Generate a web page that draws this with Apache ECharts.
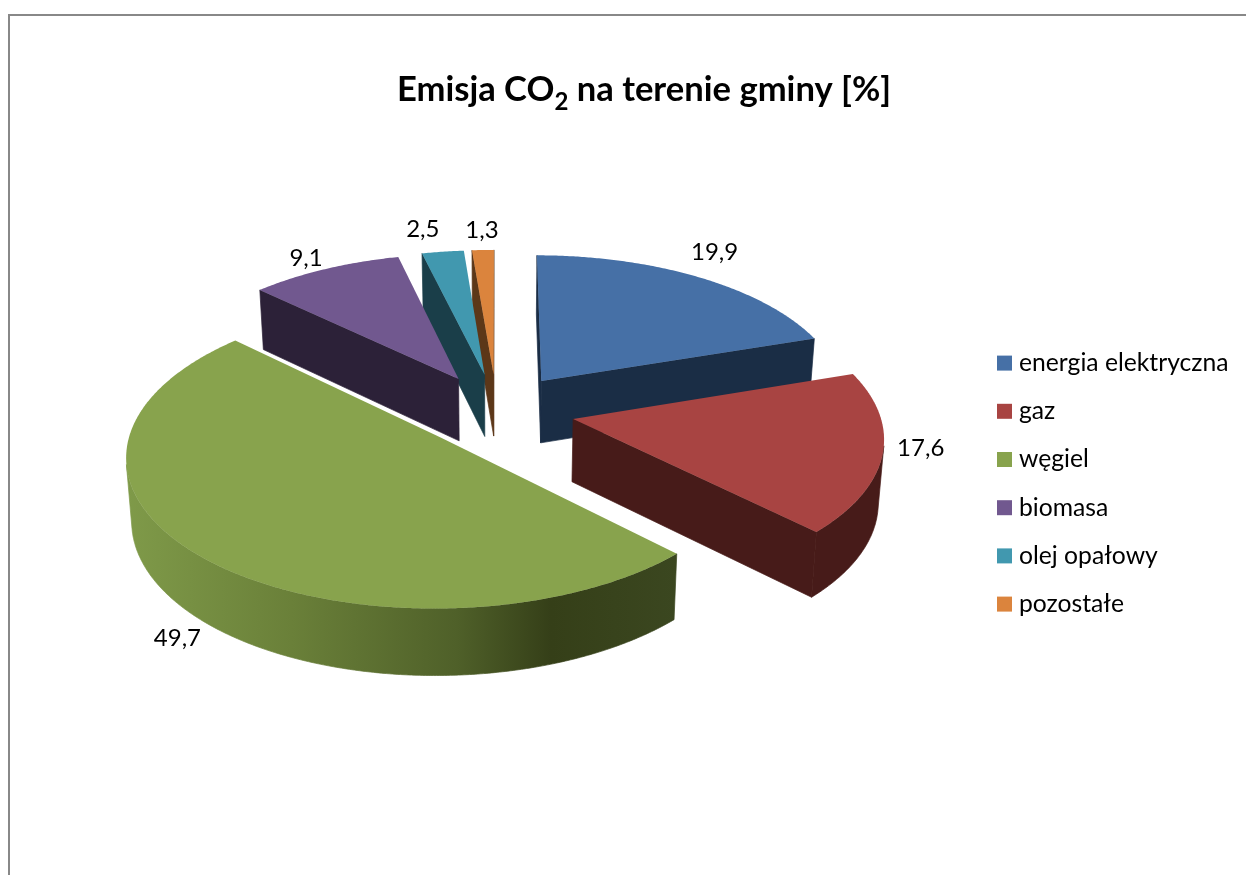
<!DOCTYPE html>
<html>
<head>
<meta charset="utf-8">
<style>html,body{margin:0;padding:0;background:#fff}#c{width:1246px;height:875px}</style>
<script src="https://cdn.jsdelivr.net/npm/echarts@6/dist/echarts.min.js"></script>
</head>
<body>
<div id="c"></div>
<script>
var categories = ['energia elektryczna', 'gaz', 'węgiel', 'biomasa', 'olej opałowy', 'pozostałe'];
var values = [19.9, 17.6, 49.7, 9.1, 2.5, 1.3];
var topColors = ['#4670A6', '#A84442', '#88A34D', '#71588F', '#4198AF', '#DB843D'];
var wallColors = ['#1A2D45', '#471B19', null, '#2C2138', '#1A3E49', '#5C3718'];
var labelNudges = [[16, -25], [38, -5], [-22, 82], [-19, -11], [-20, -22], [-1, -20]];

// Projection of the tilted, exploded pie
var view = { cx: 496.7, cy: 410.5, R: 306, explode: 78, tilt: 0.476, persp: 0.11, depth: 62.5, taper: 0.985 };

var total = values.reduce(function (a, b) { return a + b; }, 0);
var starts = [];
values.reduce(function (acc, v, i) { starts[i] = acc; return acc + v; }, 0);

function project(x, z, low) {
  var s = 1 / (1 - view.persp * z / view.R);
  return [
    view.cx + x * s * (low ? view.taper : 1),
    view.cy + z * view.tilt * s + (low ? view.depth * Math.sqrt(s) : 0)
  ];
}
function midAngle(i) { return (starts[i] + values[i] / 2) / total * 2 * Math.PI; }
function area(q) {
  var a = 0;
  for (var i = 0; i < q.length; i++) {
    var p = q[i], n = q[(i + 1) % q.length];
    a += p[0] * n[1] - n[0] * p[1];
  }
  return a;
}
var greenWall = {
  type: 'linear', global: true, x: 126, y: 0, x2: 678, y2: 0,
  colorStops: [
    { offset: 0, color: '#7F9A49' }, { offset: 0.3, color: '#6A8039' },
    { offset: 0.6, color: '#4F6029' }, { offset: 0.77, color: '#353F18' },
    { offset: 1, color: '#3B4720' }
  ]
};

function drawSlice(i) {
  var a0 = starts[i] / total * 2 * Math.PI;
  var a1 = (starts[i] + values[i]) / total * 2 * Math.PI;
  var m = midAngle(i);
  var ox = view.explode * Math.sin(m), oz = -view.explode * Math.cos(m);
  var ring = [];
  var n = Math.max(4, Math.ceil((a1 - a0) / 0.008));
  for (var k = 0; k <= n; k++) {
    var a = a0 + (a1 - a0) * k / n;
    ring.push([ox + view.R * Math.sin(a), oz - view.R * Math.cos(a)]);
  }
  var wallFill = wallColors[i] || greenWall;
  var kids = [];
  function wall(pts, fill) {
    kids.push({ type: 'polygon', shape: { points: pts }, style: { fill: fill, stroke: fill, lineWidth: 0.7 } });
  }
  function edge(a, b) {
    var q = [project(a[0], a[1]), project(b[0], b[1]), project(b[0], b[1], true), project(a[0], a[1], true)];
    if (area(q) < 0) wall(q, wallFill);
  }
  var apex = [ox, oz];
  edge(apex, ring[0]);
  edge(ring[n], apex);
  var upper = [], lower = [];
  for (var j = 0; j < n; j++) {
    var q = [project(ring[j][0], ring[j][1]), project(ring[j + 1][0], ring[j + 1][1]),
             project(ring[j + 1][0], ring[j + 1][1], true), project(ring[j][0], ring[j][1], true)];
    if (area(q) < 0) {
      if (!upper.length) { upper.push(q[0]); lower.push(q[3]); }
      upper.push(q[1]); lower.push(q[2]);
    }
  }
  if (upper.length) wall(upper.concat(lower.reverse()), wallFill);
  var top = [project(ox, oz)].concat(ring.map(function (p) { return project(p[0], p[1]); }));
  kids.push({ type: 'polygon', shape: { points: top }, style: { fill: topColors[i] } });
  var lp = project(ox + view.R * Math.sin(m), oz - view.R * Math.cos(m));
  kids.push({
    type: 'text', z2: 10,
    style: {
      x: lp[0] + labelNudges[i][0], y: lp[1] + labelNudges[i][1],
      text: String(values[i]).replace('.', ','),
      fill: '#000', font: '24px Lato', align: 'center', verticalAlign: 'middle'
    }
  });
  return { type: 'group', children: kids };
}

// Paint back slices first
var paintRank = values.map(function (v, i) { return i; })
  .sort(function (a, b) { return Math.cos(midAngle(b)) - Math.cos(midAngle(a)); });

var series = categories.map(function (name, i) {
  return {
    type: 'custom', name: name, coordinateSystem: 'none',
    z: 2 + paintRank.indexOf(i),
    itemStyle: { color: topColors[i] },
    data: [[values[i]]],
    renderItem: function () { return drawSlice(i); }
  };
});

var chart = echarts.init(document.getElementById('c'), null, { renderer: 'canvas' });
chart.setOption({
  animation: false,
  backgroundColor: '#fff',
  title: {
    text: 'Emisja CO{s|2} na terenie gminy [%]',
    left: 639, top: 60, textAlign: 'center',
    textStyle: {
      fontFamily: 'Lato', fontWeight: 'bold', fontSize: 34.6, color: '#000',
      rich: { s: { fontFamily: 'Lato', fontWeight: 'bold', fontSize: 24, color: '#000', padding: [25, 0, 0, 0] } }
    }
  },
  legend: {
    orient: 'vertical', left: 997, top: 349, icon: 'rect',
    itemWidth: 15, itemHeight: 15, itemGap: 20, padding: 0,
    data: categories, selectedMode: false,
    textStyle: { fontFamily: 'Lato', fontSize: 24.7, color: '#000', padding: [0, 0, 0, 2], lineHeight: 28.2 }
  },
  graphic: [{
    type: 'polyline', silent: true,
    shape: { points: [[9, 875], [9, 15], [1246, 15]] },
    style: { stroke: '#888888', lineWidth: 2, fill: null }
  }],
  series: series
});
</script>
</body>
</html>
